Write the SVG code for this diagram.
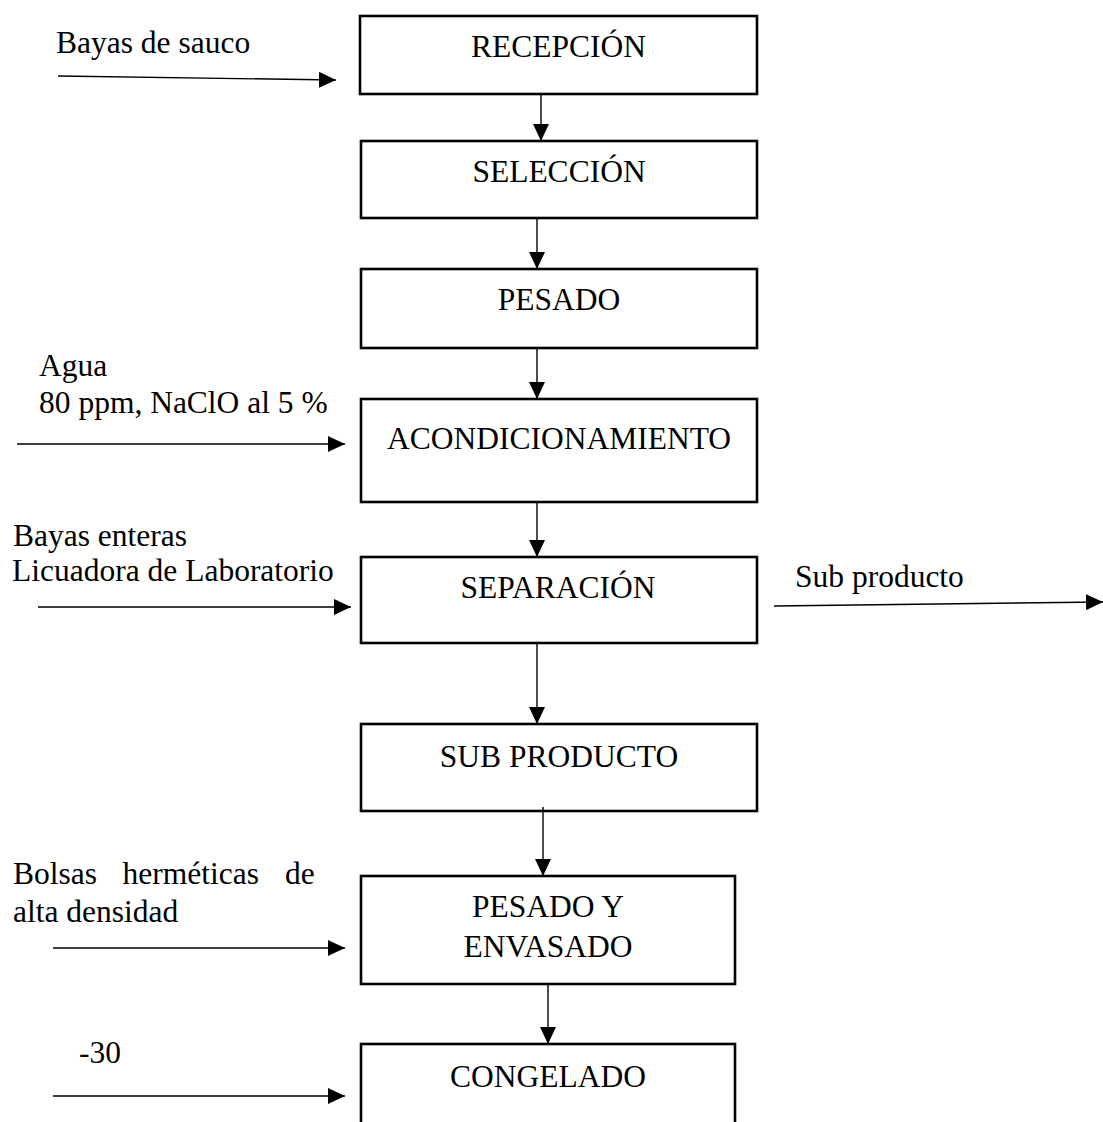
<svg xmlns="http://www.w3.org/2000/svg" width="1103" height="1122" viewBox="0 0 1103 1122">
<style>
  .box { fill: #ffffff; stroke: #000000; stroke-width: 2.6; }
  .lbl { font-family: "Liberation Serif", "Times New Roman", serif; font-size: 31.5px; fill: #000000; }
  .ctr { text-anchor: middle; }
  .con { stroke: #000000; stroke-width: 1.4; fill: none; marker-end: url(#ah); }
</style>
<defs>
  <marker id="ah" markerUnits="userSpaceOnUse" markerWidth="17" markerHeight="16" refX="17" refY="8" orient="auto">
    <path d="M0,0 L17,8 L0,16 Z" fill="#000000"/>
  </marker>
</defs>
<rect width="1103" height="1122" fill="#ffffff"/>

<g id="recepcion">
  <rect class="box" x="360" y="16" width="397" height="78"/>
  <text class="lbl ctr" x="558.5" y="57">RECEPCIÓN</text>
</g>
<g id="seleccion">
  <rect class="box" x="361" y="141" width="396" height="77"/>
  <text class="lbl ctr" x="559" y="182">SELECCIÓN</text>
</g>
<g id="pesado">
  <rect class="box" x="361" y="269" width="396" height="79"/>
  <text class="lbl ctr" x="559" y="310">PESADO</text>
</g>
<g id="acondicionamiento">
  <rect class="box" x="361" y="399" width="396" height="103"/>
  <text class="lbl ctr" x="559" y="449">ACONDICIONAMIENTO</text>
</g>
<g id="separacion">
  <rect class="box" x="361" y="557" width="396" height="86"/>
  <text class="lbl ctr" x="558" y="598">SEPARACIÓN</text>
</g>
<g id="subproducto">
  <rect class="box" x="361" y="724" width="396" height="87"/>
  <text class="lbl ctr" x="559" y="767">SUB PRODUCTO</text>
</g>
<g id="pesado-envasado">
  <rect class="box" x="361" y="876" width="374" height="108"/>
  <text class="lbl ctr" x="548" y="917">PESADO Y</text>
  <text class="lbl ctr" x="548" y="957">ENVASADO</text>
</g>
<g id="congelado">
  <rect class="box" x="361" y="1044" width="374" height="100"/>
  <text class="lbl ctr" x="548" y="1087">CONGELADO</text>
</g>

<g id="labels">
  <text class="lbl" x="56" y="53">Bayas de sauco</text>
  <text class="lbl" x="39" y="376">Agua</text>
  <text class="lbl" x="39" y="413">80 ppm, NaClO al 5 %</text>
  <text class="lbl" x="13" y="546">Bayas enteras</text>
  <text class="lbl" x="12" y="581">Licuadora de Laboratorio</text>
  <text class="lbl" x="795" y="587">Sub producto</text>
  <text class="lbl" y="884"><tspan x="13">Bolsas</tspan><tspan x="122.5">herméticas</tspan><tspan x="285">de</tspan></text>
  <text class="lbl" x="13" y="922">alta densidad</text>
  <text class="lbl" x="79" y="1063">-30</text>
</g>

<g id="connectors">
  <line class="con" x1="541" y1="94" x2="541" y2="141"/>
  <line class="con" x1="537" y1="218" x2="537" y2="269"/>
  <line class="con" x1="537" y1="348" x2="537" y2="399"/>
  <line class="con" x1="537" y1="502" x2="537" y2="557"/>
  <line class="con" x1="537" y1="643" x2="537" y2="724"/>
  <line class="con" x1="543" y1="807" x2="543" y2="876"/>
  <line class="con" x1="548" y1="984" x2="548" y2="1044"/>
  <line class="con" x1="58" y1="76" x2="336" y2="80"/>
  <line class="con" x1="17" y1="444" x2="345" y2="444"/>
  <line class="con" x1="38" y1="607" x2="351" y2="607"/>
  <line class="con" x1="774" y1="606" x2="1103" y2="602"/>
  <line class="con" x1="53" y1="948" x2="345" y2="948"/>
  <line class="con" x1="53" y1="1096" x2="345" y2="1096"/>
</g>
</svg>
